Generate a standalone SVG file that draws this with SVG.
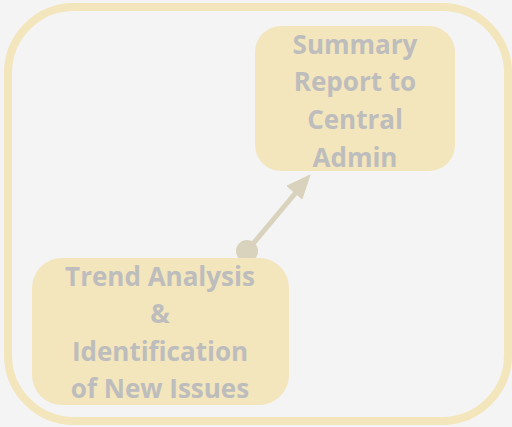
<svg xmlns="http://www.w3.org/2000/svg" width="512" height="427" viewBox="0 0 512 427">
<defs>
<style>
.box{fill:#F3E5BC;}
.t{font-family:"Open Sans","Liberation Sans",sans-serif;font-weight:700;font-size:26px;fill:#BDBDBD;text-anchor:middle;}
.c{stroke:#D9D2BC;fill:#D9D2BC;}
</style>
</defs>
<rect x="0" y="0" width="512" height="427" fill="#F4F4F4"/>
<rect x="8" y="7" width="500" height="414" rx="66" ry="66" fill="none" stroke="#F3E5BC" stroke-width="8"/>
<g id="connectors">
<line class="c" x1="247" y1="251" x2="298" y2="190" stroke-width="5"/>
<polygon class="c" stroke-width="1" points="310,175 302,199 287,186"/>
<circle class="c" cx="247" cy="251" r="11" stroke-width="0"/>
</g>
<g id="summary">
<rect class="box" x="255" y="26" width="200" height="145" rx="26"/>
<text class="t" x="355" y="54">Summary</text>
<text class="t" x="355" y="91">Report to</text>
<text class="t" x="355" y="129">Central</text>
<text class="t" x="355" y="167">Admin</text>
</g>
<g id="trend">
<rect class="box" x="32" y="258" width="257" height="147" rx="30"/>
<text class="t" x="160" y="286">Trend Analysis</text>
<text class="t" x="160" y="323">&amp;</text>
<text class="t" x="160" y="361">Identification</text>
<text class="t" x="160" y="398">of New Issues</text>
</g>
</svg>
